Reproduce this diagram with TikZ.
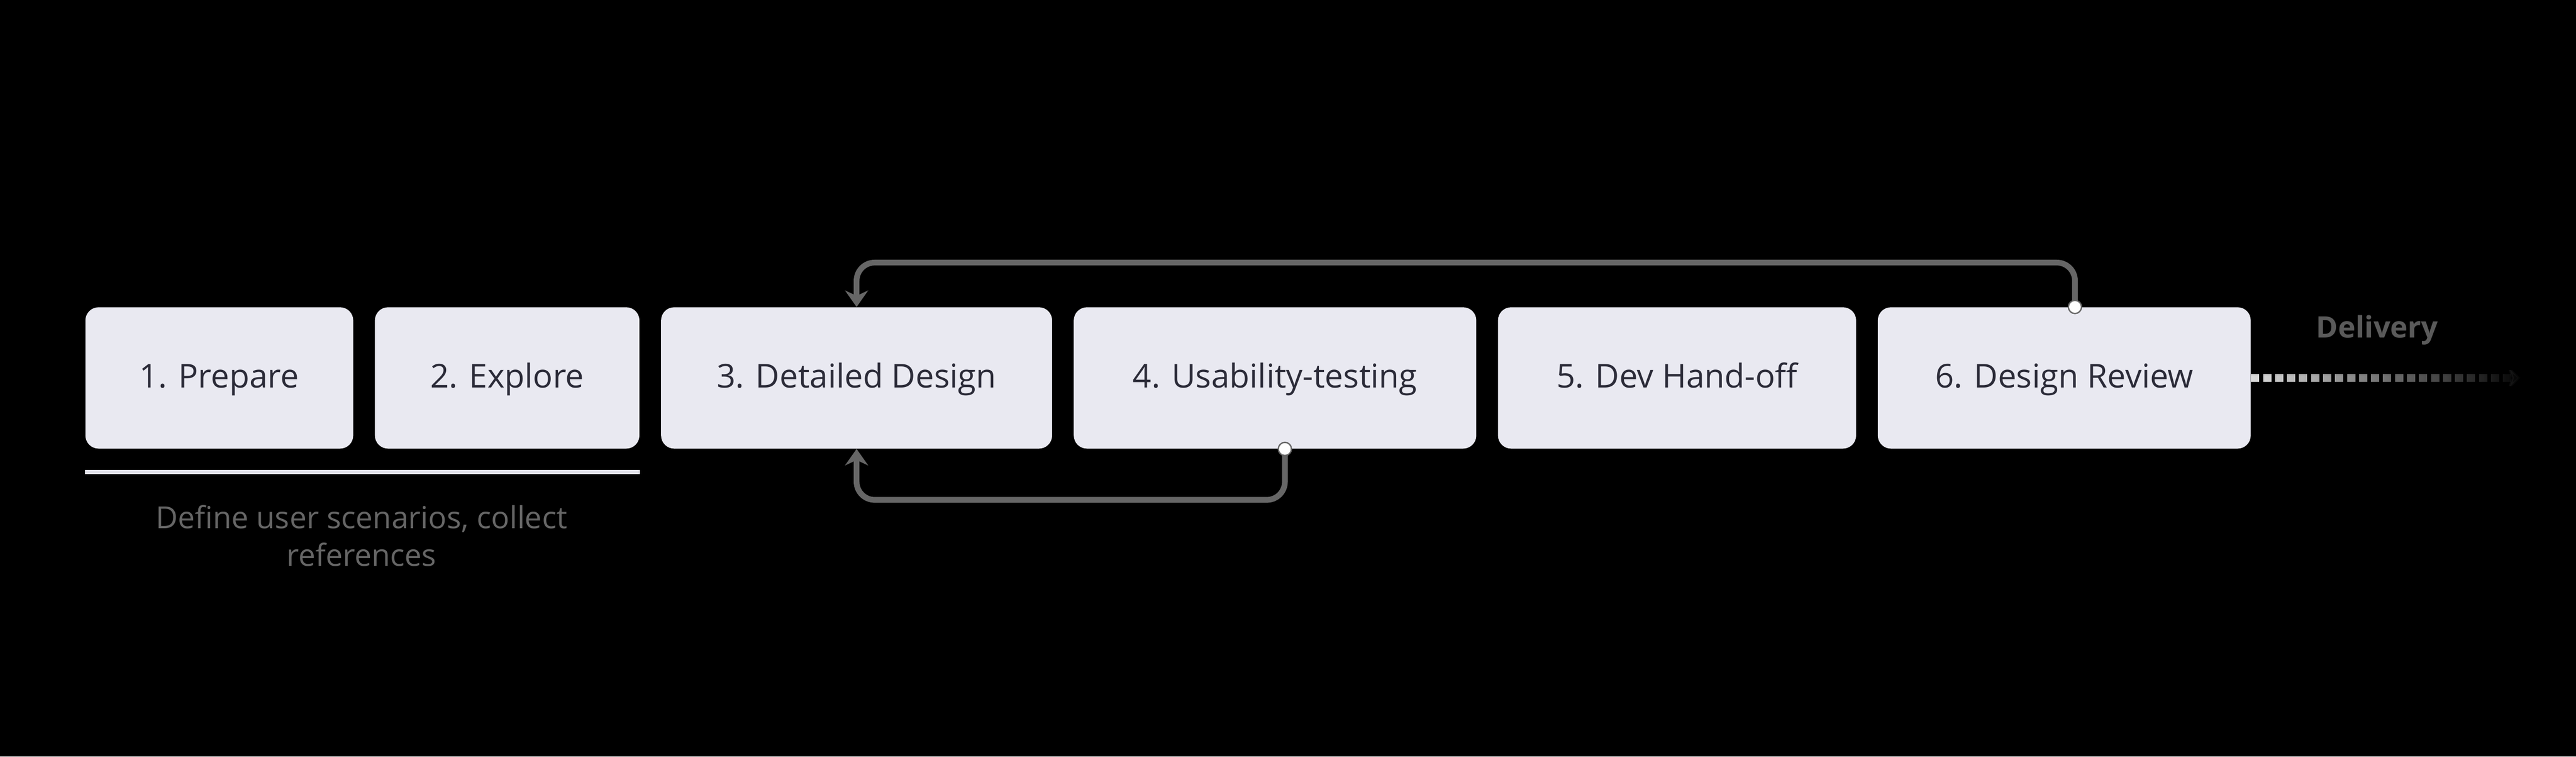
\documentclass[tikz,border=0pt]{standalone}
\usepackage{fontspec}
\setmainfont{Open Sans}
\usetikzlibrary{positioning,arrows.meta,fadings}
\definecolor{stagefill}{HTML}{E9E9F1}
\definecolor{stagetext}{HTML}{2B2B38}
\definecolor{backgray}{HTML}{666666}
\definecolor{rulegray}{HTML}{E2E2EA}
\definecolor{notegray}{HTML}{666666}
\definecolor{labelgray}{HTML}{5A5A5A}
\tikzfading[name=fade out right, left color=transparent!0, right color=transparent!100]

\begin{document}
\begin{tikzpicture}[x=1pt,y=-1pt,node distance=12.8pt,
    stage/.style={rectangle,rounded corners=8pt,fill=stagefill,text=stagetext,
      minimum height=86pt,inner sep=0pt,text height=14pt,text depth=2pt,
      font=\fontsize{20}{24}\selectfont},
    note/.style={align=center,text=notegray,font=\fontsize{18.5}{23}\selectfont},
    backedge/.style={draw=backgray,line width=3.5pt,rounded corners=11pt,
      -{Stealth[length=10pt,width=14pt]}},
    startdot/.style={circle,fill=white,draw=backgray,line width=0.8pt,
      minimum size=8pt,inner sep=0pt}]
    \fill[black] (0,0) rectangle (1568,460.4);
    \useasboundingbox (0,0) rectangle (1568,460.4);

    \node[stage,minimum width=163pt] (s_1) at (133.5,230) {1. Prepare};
    \node[stage,minimum width=161pt] (s_2) [right=of s_1] {2. Explore};
    \node[stage,minimum width=238pt] (s_3) [right=of s_2] {3. Detailed Design};
    \node[stage,minimum width=245pt] (s_4) [right=of s_3] {4. Usability-testing};
    \node[stage,minimum width=218pt] (s_5) [right=of s_4] {5. Dev Hand-off};
    \node[stage,minimum width=227pt] (s_6) [right=of s_5] {6. Design Review};

    % first two stages
    \coordinate (u_a) at ([yshift=-14pt]s_1.south west);
    \coordinate (u_b) at ([yshift=-14pt]s_2.south east);
    \draw[rulegray,line width=2.6pt] (u_a) -- (u_b);
    \node[note] (n_1) at (220,326) {Define user scenarios, collect\\references};

    % iterations back to stage 3
    \coordinate (t_6) at ([xshift=6.5pt]s_6.north);
    \coordinate (b_4) at ([xshift=6pt]s_4.south);
    \draw[backedge] (t_6) |- ([yshift=27pt]s_3.north) -- (s_3.north);
    \draw[backedge] (b_4) |- ([yshift=-31pt]s_3.south) -- (s_3.south);
    \node[startdot] (d_6) at (t_6) {};
    \node[startdot] (d_4) at (b_4) {};

    % delivery
    \coordinate (e_d) at ([xshift=164pt]s_6.east);
    \draw[white!88!black,line width=4.8pt,dash pattern=on 5pt off 2.3pt,
      path fading=fade out right,-{Stealth[length=8pt,width=15pt]}] (s_6.east) -- (e_d);
    \node[text=labelgray,font=\bfseries\fontsize{18}{22}\selectfont] (dlv) at (1447,201) {Delivery};
\end{tikzpicture}
\end{document}
